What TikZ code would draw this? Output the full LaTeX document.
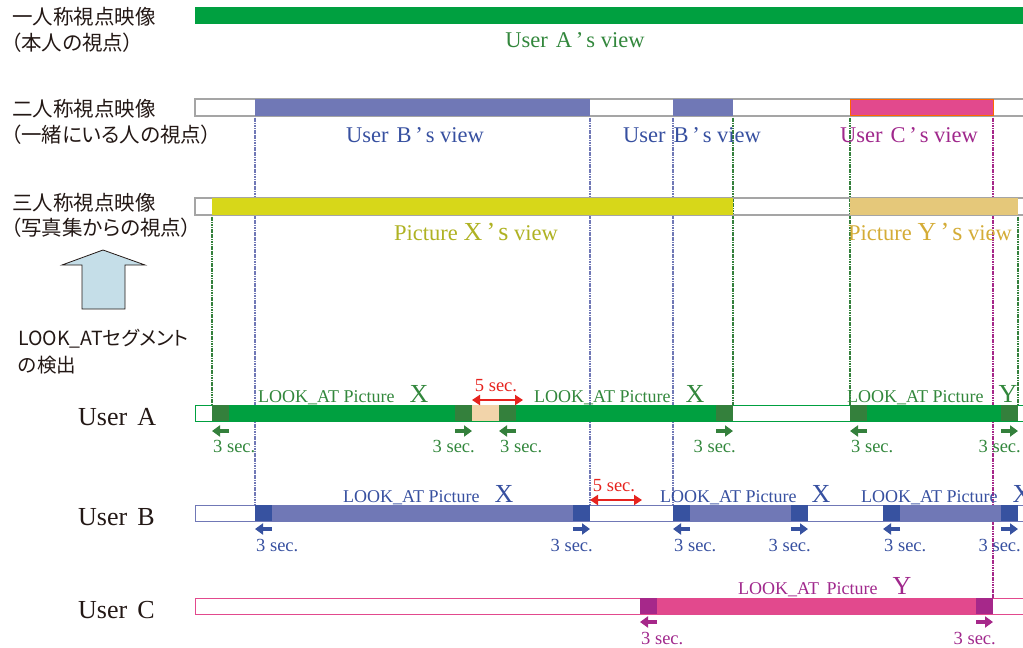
\documentclass[tikz,border=0pt]{standalone}
\usepackage{fontspec}
\setmainfont{Liberation Serif}
\newfontfamily\jpfont[RawFeature=+palt]{Noto Sans CJK JP}
\usetikzlibrary{arrows.meta}

\definecolor{viewA}{RGB}{0,160,64}
\definecolor{darkA}{RGB}{52,128,60}
\definecolor{textA}{RGB}{50,135,60}
\definecolor{viewB}{RGB}{112,120,182}
\definecolor{darkB}{RGB}{55,82,160}
\definecolor{textB}{RGB}{55,80,160}
\definecolor{viewC}{RGB}{226,73,141}
\definecolor{darkC}{RGB}{166,40,138}
\definecolor{textC}{RGB}{160,40,140}
\definecolor{picX}{RGB}{215,215,25}
\definecolor{textX}{RGB}{175,178,35}
\definecolor{picY}{RGB}{229,200,122}
\definecolor{textY}{RGB}{212,172,55}
\definecolor{gapA}{RGB}{242,212,170}
\definecolor{secred}{RGB}{230,35,30}
\definecolor{frame}{RGB}{165,165,165}
\definecolor{upblue}{RGB}{197,222,232}
\definecolor{ink}{RGB}{35,24,21}

\tikzset{
  jplbl/.style={inner sep=0pt, anchor=west, text=ink, font=\jpfont\fontsize{20.5}{22}\selectfont},
  user/.style={inner sep=0pt, anchor=base west, text=ink, font=\fontsize{26}{28}\selectfont},
  view/.style={inner sep=0pt, anchor=base, font=\fontsize{22.5}{24}\selectfont},
  look/.style={inner sep=0pt, anchor=base west, font=\fontsize{18}{20}\selectfont},
  sec/.style={inner sep=0pt, font=\fontsize{18.5}{20}\selectfont},
  tick/.style={line width=3.2pt, -{Triangle[length=8pt,width=11pt]}},
  fivesec/.style={secred, line width=2.4pt, {Triangle[length=8pt,width=10pt]}-{Triangle[length=8pt,width=10pt]}},
  guide/.style={line width=1.3pt, dash pattern=on 1.2pt off 0.5pt},
}
\newcommand{\bigX}[1]{{\fontsize{26}{28}\selectfont #1}}

\begin{document}
\begin{tikzpicture}[x=1pt,y=-1pt]
  \useasboundingbox (0,0) rectangle (1023,648);

  % row titles
  \node[jplbl] (first)   at (12,17)  {一人称視点映像};
  \node[jplbl] (firstb)  at (11,43)  {（本人の視点）};
  \node[jplbl] (second)  at (12,109) {二人称視点映像};
  \node[jplbl] (secondb) at (11,135) {（一緒にいる人の視点）};
  \node[jplbl] (third)   at (12,203) {三人称視点映像};
  \node[jplbl] (thirdb)  at (11,228) {（写真集からの視点）};

  % detection arrow
  \draw[fill=upblue, draw=ink, line width=0.8pt] (82,309) -- (82,265) -- (62,265) -- (103,250)
    -- (145,265) -- (125,265) -- (125,309) -- cycle;
  \node[jplbl, font=\jpfont\fontsize{19.5}{21}\selectfont] (detect)  at (18,339) {LOOK\_ATセグメント};
  \node[jplbl, font=\jpfont\fontsize{19.5}{21}\selectfont] (detectb) at (18,365) {の検出};

  % guide lines
  \foreach \x/\a/\b/\c in {212/215/405/darkA, 733/116/405/darkA, 850/116/405/darkA, 1018/215/405/darkA,
                           255/116/505/viewB, 590/116/505/viewB, 673/116/505/viewB, 993/116/598/darkC}
    \draw[guide, \c] (\x,\a) -- (\x,\b);

  % first person view
  \fill[viewA] (195,7) rectangle (1023,24);
  \node[view, textA] (viewa) at (575,47) {User\hspace{8pt}A\,’\hspace{3pt}s view};

  % second person view
  \draw[frame, line width=1.2pt] (195,99) rectangle (1030,116);
  \fill[viewB] (255,99) rectangle (590,116);
  \fill[viewB] (673,99) rectangle (733,116);
  \draw[fill=viewC, draw=orange!80!red, line width=1pt] (850,99.5) rectangle (993,115.5);
  \node[view, textB] (viewb)  at (415,142) {User\hspace{8pt}B\,’\hspace{3pt}s view};
  \node[view, textB] (viewbb) at (692,142) {User\hspace{8pt}B\,’\hspace{3pt}s view};
  \node[view, textC] (viewc)  at (909,142) {User\hspace{8pt}C\,’\hspace{3pt}s view};

  % third person view
  \draw[frame, line width=1.2pt] (195,198) rectangle (1030,215);
  \fill[picX] (212,198) rectangle (733,215);
  \fill[picY] (850,198) rectangle (1018,215);
  \node[view, textX] (picx) at (476,240) {Picture\ \bigX{X\,’\hspace{3pt}s}\ view};
  \node[view, textY] (picy) at (930,240) {Picture\ \bigX{Y\,’\hspace{3pt}s}\ view};

  % user A
  \node[user] (usera) at (78,425) {User\hspace{10pt}A};
  \draw[viewA, line width=1pt] (195,405) rectangle (1030,421);
  \fill[viewA] (212,405) rectangle (733,421);
  \fill[viewA] (850,405) rectangle (1018,421);
  \fill[gapA] (472,405) rectangle (499,421);
  \foreach \a in {212,455,499,716,850,1001}
    \fill[darkA] (\a,405) rectangle ++(17,16);
  \node[look, textA] (looka1) at (258,402) {LOOK\_AT Picture\hspace{15pt}\bigX{X}};
  \node[look, textA] (looka2) at (534,402) {LOOK\_AT Picture\hspace{15pt}\bigX{X}};
  \node[look, textA] (looka3) at (847,402) {LOOK\_AT Picture\hspace{15pt}\bigX{Y}};
  \draw[fivesec] (472,400) -- (523,400);
  \node[sec, anchor=base, secred] (fivea) at (496,391) {5 sec.};
  \foreach \a in {212,499,850} {
    \draw[tick, darkA] ({\a+17},431) -- (\a,431);
    \node[sec, anchor=base west, textA] at ({\a+1},452) {3 sec.};
  }
  \foreach \a in {455,716,1001} {
    \draw[tick, darkA] (\a,431) -- ({\a+17},431);
    \node[sec, anchor=base east, textA] at ({\a+20},452) {3 sec.};
  }

  % user B
  \node[user] (userb) at (78,525) {User\hspace{10pt}B};
  \draw[viewB, line width=1pt] (195,505) rectangle (1030,521);
  \fill[viewB] (255,505) rectangle (590,521);
  \fill[viewB] (673,505) rectangle (808,521);
  \fill[viewB] (883,505) rectangle (1018,521);
  \foreach \a in {255,573,673,791,883,1001}
    \fill[darkB] (\a,505) rectangle ++(17,16);
  \node[look, textB] (lookb1) at (343,502) {LOOK\_AT Picture\hspace{15pt}\bigX{X}};
  \node[look, textB] (lookb2) at (660,502) {LOOK\_AT Picture\hspace{15pt}\bigX{X}};
  \node[look, textB] (lookb3) at (861,502) {LOOK\_AT Picture\hspace{15pt}\bigX{X}};
  \draw[fivesec] (590,500) -- (642,500);
  \node[sec, anchor=base, secred] (fiveb) at (614,491) {5 sec.};
  \foreach \a in {255,673,883} {
    \draw[tick, darkB] ({\a+17},529) -- (\a,529);
    \node[sec, anchor=base west, textB] at ({\a+1},551) {3 sec.};
  }
  \foreach \a in {573,791,1001} {
    \draw[tick, darkB] (\a,529) -- ({\a+17},529);
    \node[sec, anchor=base east, textB] at ({\a+20},551) {3 sec.};
  }

  % user C
  \node[user] (userc) at (78,618) {User\hspace{10pt}C};
  \draw[viewC, line width=1pt] (195,598) rectangle (1030,614);
  \fill[viewC] (640,598) rectangle (993,614);
  \foreach \a in {640,976}
    \fill[darkC] (\a,598) rectangle ++(17,16);
  \node[look, textC] (lookc) at (738,594) {LOOK\_AT\ \,Picture\hspace{15pt}\bigX{Y}};
  \draw[tick, darkC] (657,622) -- (640,622);
  \node[sec, anchor=base west, textC] at (641,644) {3 sec.};
  \draw[tick, darkC] (976,622) -- (993,622);
  \node[sec, anchor=base east, textC] at (996,644) {3 sec.};
\end{tikzpicture}
\end{document}
